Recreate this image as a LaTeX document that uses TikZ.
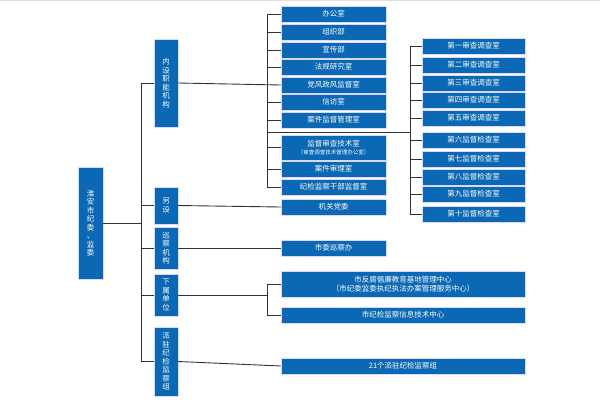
\documentclass[tikz,border=0pt]{standalone}
\usepackage{fontspec}
\setmainfont{Noto Sans CJK SC}
\begin{document}
\begin{tikzpicture}[x=1pt,y=-1pt,
  box/.style={draw=blue!15!white,line width=0.4pt,fill=bx,text=white,inner sep=0pt,
    font=\fontsize{7.5}{8.5}\selectfont,align=center},
  ln/.style={draw=black!80,line width=0.9pt}]
\definecolor{bx}{HTML}{0A68B4}
\useasboundingbox (0,0) rectangle (600,400);
\fill[white] (0,0) rectangle (600,400);
\draw[black!12,line width=1pt] (0,0.5) -- (600,0.5);
\newcommand{\bx}[6]{\node[box,minimum width=#4-#2,minimum height=#5-#3] (#1) at ({(#2+#4)/2},{(#3+#5)/2}) {#6};}
% root
\bx{root}{78}{167}{103}{279}{淮\\安\\市\\纪\\委\\、\\监\\委}
% level 1
\bx{a}{154}{39}{178}{127}{内\\设\\职\\能\\机\\构}
\bx{b}{154}{187}{178}{224}{另\\设}
\bx{c}{154}{227}{178}{269}{巡\\察\\机\\构}
\bx{d}{154}{274}{178}{316}{下\\属\\单\\位}
\bx{e}{154}{327}{178}{396}{派\\驻\\纪\\检\\监\\察\\组}
% middle
\bx{m1}{281}{6}{386}{22}{办公室}
\bx{m2}{281}{24}{386}{40}{组织部}
\bx{m3}{281}{42}{386}{58}{宣传部}
\bx{m4}{281}{59}{386}{75}{法规研究室}
\bx{m5}{281}{77}{386}{93}{党风政风监督室}
\bx{m6}{281}{94}{386}{110}{信访室}
\bx{m7}{281}{112}{386}{128}{案件监督管理室}
\bx{m8}{281}{135}{386}{160}{监督审查技术室\\[-1pt]{\fontsize{5.5}{6}\selectfont （审查调查技术管理办公室）}}
\bx{m9}{281}{161}{386}{177}{案件审理室}
\bx{m10}{281}{179}{386}{195}{纪检监察干部监督室}
\bx{m11}{281}{199}{386}{215}{机关党委}
\bx{m12}{281}{240}{386}{256}{市委巡察办}
\bx{m13}{281}{271}{525}{297}{市反腐倡廉教育基地管理中心\\（市纪委监委执纪执法办案管理服务中心）}
\bx{m14}{281}{307}{525}{323}{市纪检监察信息技术中心}
\bx{m15}{281}{358}{525}{374}{21个派驻纪检监察组}
% right
\bx{r1}{422}{38}{525}{54}{第一审查调查室}
\bx{r2}{422}{57}{525}{73}{第二审查调查室}
\bx{r3}{422}{75}{525}{91}{第三审查调查室}
\bx{r4}{422}{92}{525}{108}{第四审查调查室}
\bx{r5}{422}{110}{525}{126}{第五审查调查室}
\bx{r6}{422}{132}{525}{148}{第六监督检查室}
\bx{r7}{422}{151}{525}{167}{第七监督检查室}
\bx{r8}{422}{169}{525}{185}{第八监督检查室}
\bx{r9}{422}{186}{525}{202}{第九监督检查室}
\bx{r10}{422}{206}{525}{222}{第十监督检查室}
% trunk coordinates
\coordinate (t0) at (141,83);
\coordinate (t1) at (141,361.5);
\coordinate (mt0) at (267,14);
\coordinate (mt1) at (267,187);
\coordinate (j) at (267,132);
\coordinate (rt0) at (410,46);
\coordinate (rt1) at (410,214);
\coordinate (dt) at (267,284);
\coordinate (dt1) at (267,315);
% connectors
\draw[ln] (root.east) -- (root.east -| t0);
\draw[ln] (t0) -- (t1);
\foreach \n in {a,b,c,d,e} \draw[ln] (\n.west) -- (\n.west -| t0);
\draw[ln] (a.east) -- (m5.west);
\draw[ln] (mt0) -- (mt1);
\foreach \n in {m1,m2,m3,m4,m6,m7,m8,m9,m10} \draw[ln] (\n.west) -- (\n.west -| mt0);
\draw[ln] (j) -- (j -| rt0);
\draw[ln] (rt0) -- (rt1);
\foreach \n in {r1,r2,r3,r4,r5,r6,r7,r8,r9,r10} \draw[ln] (\n.west) -- (\n.west -| rt0);
\draw[ln] (b.east) -- (m11.west);
\draw[ln] (c.east) -- (m12.west);
\draw[ln] (d.east) -- (d.east -| dt);
\draw[ln] (dt) -- (dt1);
\draw[ln] (m13.west) -- (m13.west -| dt);
\draw[ln] (m14.west) -- (m14.west -| dt);
\draw[ln] (e.east) -- (m15.west);
\end{tikzpicture}
\end{document}
